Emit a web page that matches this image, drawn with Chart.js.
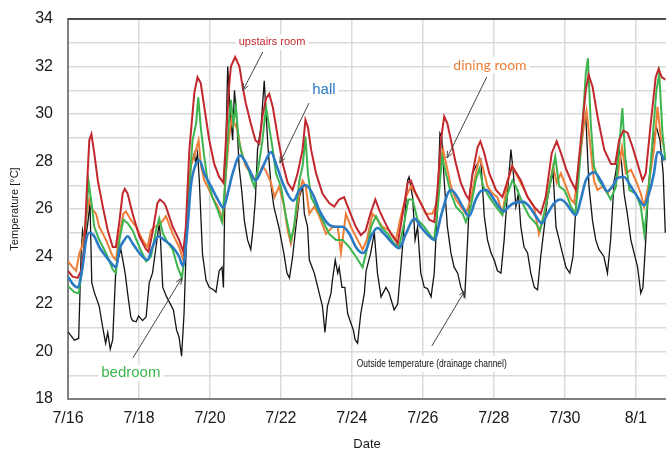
<!DOCTYPE html>
<html>
<head>
<meta charset="utf-8">
<title>Room temperatures</title>
<script src="https://cdn.jsdelivr.net/npm/chart.js@4.4.1/dist/chart.umd.min.js"></script>
<style>
  html, body { margin: 0; padding: 0; background: #fff; }
  #wrap { width: 666px; height: 450px; }
</style>
</head>
<body>
<div id="wrap"><canvas id="tempChart" width="666" height="450"></canvas></div>
<script>
// --- Data: days since 7/16 00:00, temperatures in °C ---
const dateTicks = ['7/16', '7/18', '7/20', '7/22', '7/24', '7/26', '7/28', '7/30', '8/1'];

const outsideDays = [0, 0.18, 0.3, 0.37, 0.41, 0.47, 0.55, 0.62, 0.67, 0.74, 0.88, 0.98, 1.06, 1.12, 1.19, 1.26, 1.35, 1.45, 1.49, 1.61, 1.68, 1.77, 1.82, 1.92, 1.99, 2.1, 2.2, 2.29, 2.38, 2.57, 2.6, 2.67, 2.78, 2.97, 3.06, 3.13, 3.2, 3.27, 3.34, 3.37, 3.46, 3.56, 3.6, 3.65, 3.7, 3.79, 3.89, 3.98, 4.1, 4.17, 4.26, 4.34, 4.38, 4.43, 4.5, 4.56, 4.64, 4.69, 4.75, 4.82, 4.9, 4.97, 5.06, 5.15, 5.22, 5.28, 5.34, 5.44, 5.53, 5.58, 5.64, 5.72, 5.8, 5.94, 6.08, 6.17, 6.24, 6.33, 6.42, 6.52, 6.61, 6.66, 6.75, 6.8, 6.94, 7.08, 7.17, 7.24, 7.31, 7.41, 7.45, 7.53, 7.6, 7.64, 7.72, 7.8, 7.88, 7.97, 8.04, 8.09, 8.16, 8.25, 8.35, 8.4, 8.53, 8.63, 8.72, 8.82, 8.96, 9.05, 9.19, 9.29, 9.38, 9.47, 9.57, 9.61, 9.71, 9.78, 9.85, 9.94, 10.04, 10.13, 10.23, 10.32, 10.41, 10.48, 10.53, 10.6, 10.69, 10.79, 10.88, 10.98, 11.07, 11.18, 11.26, 11.32, 11.4, 11.49, 11.63, 11.73, 11.82, 11.92, 12.01, 12.1, 12.2, 12.29, 12.39, 12.48, 12.55, 12.62, 12.69, 12.76, 12.85, 12.95, 13.04, 13.14, 13.23, 13.32, 13.42, 13.51, 13.61, 13.67, 13.75, 13.84, 13.93, 14.03, 14.14, 14.23, 14.31, 14.4, 14.54, 14.59, 14.68, 14.78, 14.87, 14.96, 15.1, 15.2, 15.29, 15.39, 15.43, 15.53, 15.6, 15.67, 15.76, 15.86, 15.95, 16.05, 16.14, 16.2, 16.28, 16.37, 16.49, 16.58, 16.68, 16.77, 16.83];
const outsideTemp = [20.83, 20.48, 20.55, 24.15, 25.1, 24.6, 25.3, 26.25, 22.9, 22.5, 21.9, 21.0, 20.35, 20.8, 20.1, 20.5, 23.55, 24.1, 24.3, 23.3, 22.45, 21.45, 21.3, 21.25, 21.5, 21.3, 21.45, 22.9, 23.3, 25.4, 24.9, 22.7, 22.3, 21.75, 20.9, 20.6, 19.8, 21.6, 24.8, 26.1, 27.8, 28.35, 27.9, 28.35, 27.2, 24.1, 23.0, 22.7, 22.6, 22.5, 23.4, 23.55, 22.7, 27.5, 32.0, 30.3, 28.9, 31.0, 29.9, 27.8, 26.7, 25.5, 24.7, 24.3, 25.25, 26.4, 28.5, 29.5, 31.4, 30.0, 28.5, 27.0, 26.1, 25.25, 24.15, 23.3, 23.1, 24.0, 25.25, 26.5, 26.95, 25.8, 25.25, 23.85, 23.3, 22.45, 21.9, 20.8, 21.9, 22.45, 23.0, 23.85, 23.3, 23.55, 22.7, 22.7, 21.6, 21.2, 20.9, 20.5, 20.35, 21.6, 22.45, 23.4, 24.15, 25.0, 23.3, 22.3, 22.7, 22.45, 21.75, 22.0, 23.55, 25.25, 27.2, 27.35, 26.5, 24.7, 25.25, 23.3, 22.7, 22.65, 22.3, 23.3, 26.1, 29.2, 29.05, 27.2, 25.25, 24.15, 23.55, 23.3, 22.7, 22.3, 24.7, 26.65, 27.5, 27.8, 28.1, 25.7, 24.7, 24.15, 23.85, 23.4, 23.3, 24.7, 26.8, 28.5, 27.5, 26.1, 26.65, 25.25, 24.4, 24.15, 23.3, 22.7, 22.6, 24.0, 25.25, 26.4, 27.2, 27.5, 25.25, 24.7, 24.15, 23.55, 23.3, 24.0, 26.1, 27.8, 29.75, 29.9, 26.95, 25.5, 24.7, 24.3, 24.0, 23.3, 24.7, 27.2, 27.5, 28.5, 27.9, 26.65, 25.8, 24.7, 24.15, 23.55, 22.45, 22.7, 24.7, 27.2, 28.9, 29.45, 28.9, 27.5, 25.0];

const upstairsDays = [0, 0.13, 0.27, 0.37, 0.46, 0.53, 0.6, 0.66, 0.74, 0.84, 0.98, 1.12, 1.26, 1.35, 1.45, 1.54, 1.6, 1.68, 1.82, 2.01, 2.2, 2.27, 2.38, 2.52, 2.59, 2.71, 2.76, 2.95, 3.13, 3.25, 3.32, 3.42, 3.56, 3.65, 3.74, 3.84, 3.98, 4.12, 4.26, 4.38, 4.45, 4.53, 4.59, 4.71, 4.83, 4.92, 5.01, 5.15, 5.28, 5.39, 5.48, 5.58, 5.67, 5.77, 5.91, 6.05, 6.19, 6.33, 6.47, 6.61, 6.69, 6.76, 6.85, 6.99, 7.17, 7.36, 7.5, 7.64, 7.78, 7.92, 8.11, 8.25, 8.39, 8.52, 8.66, 8.77, 8.91, 9.1, 9.29, 9.42, 9.57, 9.66, 9.8, 9.99, 10.18, 10.32, 10.41, 10.51, 10.6, 10.69, 10.79, 10.93, 11.07, 11.21, 11.3, 11.4, 11.54, 11.62, 11.73, 11.87, 12.06, 12.24, 12.39, 12.51, 12.62, 12.76, 12.95, 13.13, 13.32, 13.46, 13.63, 13.77, 13.89, 14.03, 14.17, 14.31, 14.45, 14.59, 14.67, 14.78, 14.92, 15.11, 15.3, 15.42, 15.53, 15.65, 15.77, 15.91, 16.05, 16.19, 16.28, 16.42, 16.56, 16.64, 16.73, 16.83];
const upstairsTemp = [23.4, 23.15, 23.1, 23.4, 24.4, 26.8, 28.9, 29.15, 28.35, 27.2, 26.1, 25.1, 24.4, 24.4, 25.5, 26.65, 26.85, 26.65, 25.8, 24.85, 24.3, 24.2, 25.0, 26.25, 26.4, 26.25, 26.1, 25.25, 24.7, 24.2, 25.25, 28.5, 30.9, 31.55, 31.3, 30.3, 28.9, 27.9, 27.35, 27.1, 28.9, 31.0, 32.0, 32.4, 32.0, 31.15, 30.45, 29.6, 28.9, 28.75, 29.9, 30.65, 30.85, 30.3, 29.05, 27.9, 27.1, 26.8, 27.5, 28.5, 29.75, 29.45, 28.5, 27.5, 26.65, 26.25, 26.1, 26.4, 26.5, 25.95, 25.25, 24.9, 25.1, 25.8, 26.4, 25.95, 25.5, 24.95, 24.55, 25.7, 27.1, 27.2, 26.65, 26.1, 25.55, 25.45, 26.8, 28.9, 29.9, 29.6, 28.9, 27.9, 27.1, 26.6, 26.4, 27.5, 28.6, 28.85, 28.35, 27.5, 26.8, 26.5, 27.2, 27.8, 27.55, 27.2, 26.5, 26.1, 25.8, 26.5, 28.35, 28.85, 28.35, 27.7, 27.2, 26.8, 28.9, 31.0, 31.65, 31.15, 29.9, 28.5, 27.9, 27.9, 28.9, 29.3, 29.2, 28.6, 27.9, 27.2, 27.5, 29.6, 31.55, 31.9, 31.55, 31.45];

const hallDays = [0, 0.13, 0.27, 0.41, 0.51, 0.6, 0.74, 0.88, 1.07, 1.26, 1.35, 1.45, 1.59, 1.68, 1.82, 2.01, 2.24, 2.38, 2.55, 2.71, 2.95, 3.13, 3.24, 3.37, 3.46, 3.58, 3.7, 3.84, 4.03, 4.22, 4.38, 4.5, 4.64, 4.85, 4.97, 5.11, 5.28, 5.41, 5.53, 5.72, 5.86, 6.05, 6.24, 6.35, 6.52, 6.7, 6.89, 7.08, 7.31, 7.55, 7.74, 7.93, 8.11, 8.3, 8.39, 8.54, 8.72, 8.91, 9.15, 9.33, 9.52, 9.76, 9.94, 10.18, 10.32, 10.51, 10.7, 10.79, 10.93, 11.12, 11.3, 11.49, 11.63, 11.79, 11.96, 12.14, 12.28, 12.42, 12.57, 12.83, 13.0, 13.18, 13.35, 13.51, 13.7, 13.87, 14.03, 14.17, 14.31, 14.45, 14.59, 14.83, 15.01, 15.2, 15.34, 15.48, 15.67, 15.86, 16.05, 16.23, 16.37, 16.51, 16.61, 16.7, 16.8];
const hallTemp = [23.15, 22.85, 22.7, 23.55, 24.7, 25.0, 24.85, 24.4, 24.0, 23.65, 23.55, 24.3, 24.7, 24.85, 24.55, 24.15, 23.85, 24.4, 24.85, 24.7, 24.4, 24.0, 23.6, 25.25, 26.95, 27.8, 28.05, 27.5, 26.95, 26.4, 26.05, 26.65, 27.5, 28.25, 28.05, 27.65, 27.2, 27.5, 27.9, 28.4, 27.9, 27.1, 26.5, 26.35, 26.8, 27.0, 26.65, 25.95, 25.4, 25.25, 25.25, 24.95, 24.4, 24.15, 24.25, 24.85, 25.2, 24.95, 24.55, 24.35, 24.95, 25.6, 25.25, 24.85, 24.7, 25.7, 26.65, 26.8, 26.6, 26.1, 25.7, 26.4, 26.75, 26.8, 26.5, 26.1, 25.9, 26.1, 26.25, 26.3, 26.1, 25.7, 25.4, 25.8, 26.25, 26.4, 26.25, 25.95, 25.75, 26.4, 27.2, 27.55, 27.2, 26.75, 26.95, 27.3, 27.35, 26.95, 26.5, 26.15, 26.65, 27.5, 28.4, 28.35, 28.05];

const diningDays = [0, 0.13, 0.23, 0.32, 0.39, 0.46, 0.53, 0.6, 0.7, 0.79, 0.88, 1.07, 1.26, 1.35, 1.45, 1.56, 1.63, 1.77, 1.92, 2.1, 2.24, 2.34, 2.43, 2.53, 2.67, 2.76, 2.95, 3.13, 3.25, 3.34, 3.46, 3.61, 3.68, 3.75, 3.84, 3.93, 4.07, 4.22, 4.36, 4.43, 4.53, 4.62, 4.69, 4.78, 4.87, 5.01, 5.15, 5.3, 5.39, 5.48, 5.58, 5.72, 5.82, 5.95, 6.09, 6.19, 6.28, 6.37, 6.52, 6.61, 6.7, 6.8, 6.94, 7.08, 7.27, 7.46, 7.6, 7.69, 7.83, 7.97, 8.16, 8.3, 8.42, 8.58, 8.72, 8.86, 9.05, 9.24, 9.38, 9.52, 9.66, 9.8, 9.94, 10.08, 10.27, 10.39, 10.51, 10.57, 10.67, 10.79, 10.93, 11.07, 11.21, 11.35, 11.49, 11.59, 11.68, 11.82, 11.96, 12.1, 12.24, 12.39, 12.52, 12.67, 12.81, 12.95, 13.13, 13.27, 13.42, 13.56, 13.67, 13.77, 13.89, 14.03, 14.17, 14.26, 14.4, 14.54, 14.61, 14.7, 14.82, 14.92, 15.06, 15.2, 15.34, 15.48, 15.61, 15.72, 15.86, 16.0, 16.14, 16.23, 16.37, 16.52, 16.61, 16.7, 16.8];
const diningTemp = [23.8, 23.55, 23.4, 24.15, 24.4, 24.95, 25.8, 26.4, 25.95, 25.8, 25.25, 24.7, 24.0, 23.85, 24.95, 25.8, 25.9, 25.55, 25.25, 24.7, 24.4, 25.1, 25.25, 25.3, 25.5, 25.7, 24.95, 24.4, 23.85, 25.25, 27.8, 28.5, 28.9, 27.8, 27.2, 26.95, 26.5, 26.1, 25.55, 27.1, 28.9, 29.9, 29.6, 29.3, 28.5, 27.8, 27.5, 27.2, 27.5, 27.8, 27.6, 27.1, 26.5, 26.95, 26.1, 25.1, 24.55, 25.25, 26.65, 27.2, 26.95, 25.8, 26.1, 25.7, 24.95, 25.25, 25.25, 24.15, 25.8, 25.25, 24.7, 24.3, 24.7, 25.8, 25.55, 25.25, 25.1, 24.7, 25.7, 26.5, 26.95, 26.65, 26.25, 25.8, 25.8, 26.25, 28.05, 28.5, 27.8, 26.95, 26.4, 26.1, 25.8, 26.4, 27.5, 28.15, 27.8, 26.95, 26.65, 26.5, 25.8, 27.2, 27.8, 27.35, 26.95, 26.5, 26.1, 24.95, 25.8, 26.95, 27.8, 27.1, 27.5, 26.95, 26.4, 26.25, 27.8, 29.6, 30.15, 28.9, 27.2, 26.8, 26.95, 26.65, 26.95, 27.35, 28.6, 27.5, 27.65, 27.2, 26.65, 26.1, 27.1, 28.6, 30.3, 29.05, 28.6];

const bedroomDays = [0, 0.18, 0.3, 0.41, 0.49, 0.58, 0.65, 0.74, 0.88, 1.07, 1.26, 1.35, 1.45, 1.56, 1.68, 1.82, 2.01, 2.2, 2.34, 2.48, 2.57, 2.68, 2.8, 2.95, 3.09, 3.21, 3.3, 3.4, 3.51, 3.61, 3.67, 3.74, 3.84, 3.93, 4.07, 4.22, 4.34, 4.43, 4.53, 4.59, 4.66, 4.73, 4.81, 4.92, 5.06, 5.18, 5.25, 5.37, 5.48, 5.58, 5.67, 5.77, 5.86, 6.0, 6.14, 6.28, 6.37, 6.52, 6.61, 6.69, 6.76, 6.85, 6.99, 7.17, 7.36, 7.55, 7.74, 7.92, 8.11, 8.3, 8.4, 8.54, 8.68, 8.82, 9.01, 9.19, 9.33, 9.47, 9.59, 9.71, 9.85, 10.04, 10.23, 10.32, 10.44, 10.54, 10.65, 10.79, 10.93, 11.12, 11.21, 11.35, 11.49, 11.59, 11.7, 11.87, 12.06, 12.24, 12.39, 12.52, 12.62, 12.81, 12.99, 13.18, 13.3, 13.46, 13.6, 13.73, 13.84, 13.98, 14.05, 14.17, 14.3, 14.4, 14.5, 14.59, 14.65, 14.73, 14.82, 14.96, 15.15, 15.29, 15.44, 15.53, 15.62, 15.7, 15.82, 16.0, 16.14, 16.24, 16.36, 16.47, 16.58, 16.66, 16.75, 16.83];
const bedroomTemp = [22.75, 22.5, 22.45, 23.55, 25.25, 27.15, 26.4, 25.25, 24.7, 24.15, 23.45, 23.3, 24.7, 25.55, 25.4, 25.1, 24.4, 23.8, 24.0, 25.1, 25.6, 24.95, 24.6, 24.3, 23.55, 23.1, 24.15, 26.5, 28.9, 29.6, 30.7, 29.45, 28.2, 27.2, 26.5, 25.95, 25.45, 27.1, 29.6, 30.6, 29.6, 30.3, 28.9, 28.2, 27.8, 27.2, 26.95, 27.8, 28.9, 30.3, 29.45, 28.5, 27.5, 26.95, 25.7, 24.7, 25.25, 27.2, 27.8, 29.05, 27.5, 26.5, 26.1, 25.55, 24.95, 24.7, 24.7, 24.4, 24.0, 23.55, 24.15, 25.25, 25.7, 25.25, 24.95, 24.55, 24.4, 25.4, 26.4, 26.4, 25.55, 25.25, 24.85, 24.7, 26.4, 28.2, 27.5, 26.65, 26.1, 25.8, 25.45, 26.1, 27.2, 27.7, 26.95, 26.5, 26.1, 25.75, 26.65, 27.2, 26.95, 26.25, 25.7, 25.4, 25.1, 26.1, 27.2, 28.2, 26.95, 26.8, 26.6, 26.1, 25.8, 27.5, 29.6, 31.7, 32.35, 29.6, 27.8, 27.2, 26.8, 26.4, 26.95, 28.6, 30.25, 28.2, 26.8, 26.65, 26.1, 24.95, 26.8, 28.9, 31.0, 31.7, 29.2, 28.05];

// --- Colours ---
const RED = '#c1272d';
const BLUE = '#2a7ac4';
const ORANGE = '#ee7d38';
const GREEN = '#3db54e';
const BLACK = '#141414';

function toPoints(days, temps) {
    return days.map((d, i) => ({ x: d, y: temps[i] }));
}

// --- Labels with leader arrows (positions in data units) ---
const callouts = [
    { text: 'upstairs room', color: RED, font: '11px "Liberation Sans", Arial, sans-serif', at: [5.75, 33.03], from: [5.49, 32.61], to: [4.93, 31.0] },
    { text: 'hall', color: BLUE, font: '15px "Liberation Sans", Arial, sans-serif', at: [7.21, 31.0], from: [6.79, 30.46], to: [5.97, 27.94] },
    { text: 'dining room', color: ORANGE, font: '14px Lato, "Open Sans", sans-serif', at: [11.89, 32.06], from: [11.8, 31.56], to: [10.68, 28.15] },
    { text: 'bedroom', color: GREEN, font: '15px "Liberation Sans", Arial, sans-serif', at: [1.77, 19.09], from: [1.83, 19.73], to: [3.21, 23.1] },
    { text: 'Outside temperature (drainage channel)', color: '#111', font: '10px "Liberation Sans", Arial, sans-serif', at: [10.25, 19.47], from: [10.25, 20.23], to: [11.18, 22.55], maxWidth: 150 }
];

const calloutPlugin = {
    id: 'callouts',
    afterDatasetsDraw(chart) {
        const { ctx, chartArea, scales: { x, y } } = chart;
        ctx.save();

        // dark frame line along the top of the plot
        ctx.strokeStyle = '#4d4d4d';
        ctx.lineWidth = 2;
        ctx.beginPath();
        ctx.moveTo(chartArea.left, chartArea.top);
        ctx.lineTo(chartArea.right, chartArea.top);
        ctx.stroke();

        callouts.forEach(c => {
            const x1 = x.getPixelForValue(c.from[0]);
            const y1 = y.getPixelForValue(c.from[1]);
            const x2 = x.getPixelForValue(c.to[0]);
            const y2 = y.getPixelForValue(c.to[1]);

            // leader line + open arrow head
            ctx.strokeStyle = '#444';
            ctx.lineWidth = 1;
            ctx.beginPath();
            ctx.moveTo(x1, y1);
            ctx.lineTo(x2, y2);
            const ang = Math.atan2(y2 - y1, x2 - x1);
            const len = 7;
            ctx.moveTo(x2 - len * Math.cos(ang - 0.4), y2 - len * Math.sin(ang - 0.4));
            ctx.lineTo(x2, y2);
            ctx.lineTo(x2 - len * Math.cos(ang + 0.4), y2 - len * Math.sin(ang + 0.4));
            ctx.stroke();

            // label on a white patch
            const tx = x.getPixelForValue(c.at[0]);
            const ty = y.getPixelForValue(c.at[1]);
            ctx.font = c.font;
            let w = ctx.measureText(c.text).width;
            if (c.maxWidth) w = Math.min(w, c.maxWidth);
            ctx.fillStyle = '#fff';
            ctx.fillRect(tx - w / 2 - 3, ty - 8, w + 6, 16);
            ctx.fillStyle = c.color;
            ctx.textAlign = 'center';
            ctx.textBaseline = 'middle';
            if (c.maxWidth) ctx.fillText(c.text, tx, ty, c.maxWidth);
            else ctx.fillText(c.text, tx, ty);
        });
        ctx.restore();
    }
};

const tickFont = { family: '"Liberation Sans", Arial, sans-serif', size: 16 };

function lineSet(label, days, temps, color, width, smooth) {
    return {
        label: label,
        data: toPoints(days, temps),
        borderColor: color,
        backgroundColor: color,
        borderWidth: width,
        pointRadius: 0,
        tension: smooth ? 0.4 : 0,
        cubicInterpolationMode: smooth ? 'monotone' : 'default',
        fill: false
    };
}

new Chart(document.getElementById('tempChart'), {
    type: 'line',
    data: {
        // first dataset is drawn on top
        datasets: [
            lineSet('hall', hallDays, hallTemp, BLUE, 2.6, true),
            lineSet('upstairs room', upstairsDays, upstairsTemp, RED, 2, false),
            lineSet('bedroom', bedroomDays, bedroomTemp, GREEN, 2, false),
            lineSet('dining room', diningDays, diningTemp, ORANGE, 2, false),
            lineSet('Outside temperature (drainage channel)', outsideDays, outsideTemp, BLACK, 1.3, false)
        ]
    },
    options: {
        responsive: false,
        animation: false,
        devicePixelRatio: 1,
        layout: { padding: { top: 19, right: 0, bottom: 0, left: 0 } },
        plugins: {
            legend: { display: false },
            tooltip: { enabled: false }
        },
        scales: {
            x: {
                type: 'linear',
                min: 0,
                max: 16.85,
                afterFit: (scale) => { scale.height = 51; },
                ticks: {
                    stepSize: 2,
                    includeBounds: false,
                    autoSkip: false,
                    maxRotation: 0,
                    padding: 10,
                    color: '#1a1a1a',
                    font: tickFont,
                    callback: (v) => dateTicks[v / 2] || ''
                },
                grid: { color: '#dadada', lineWidth: 1.5, drawTicks: false },
                border: { color: '#808080', width: 2 },
                title: {
                    display: true,
                    text: 'Date',
                    color: '#1a1a1a',
                    font: { family: '"Liberation Sans", Arial, sans-serif', size: 13 },
                    padding: { top: 0, bottom: -2 }
                }
            },
            y: {
                min: 18,
                max: 34,
                afterFit: (scale) => {
                    scale.width = 68;
                    // tick padding should not push the plot down
                    scale.paddingTop = 0;
                    scale.paddingBottom = 0;
                },
                ticks: {
                    stepSize: 1,
                    autoSkip: false,
                    padding: 15,
                    color: '#1a1a1a',
                    font: tickFont,
                    callback: (v) => (v % 2 === 0 ? v : '')
                },
                grid: { color: '#dadada', lineWidth: 1.5, drawTicks: false },
                border: { color: '#808080', width: 2 },
                title: {
                    display: true,
                    text: 'Temperature [°C]',
                    color: '#1a1a1a',
                    font: { family: '"Liberation Sans", Arial, sans-serif', size: 11 },
                    padding: { top: 8, bottom: 0 }
                }
            }
        }
    },
    plugins: [calloutPlugin]
});
</script>
</body>
</html>
